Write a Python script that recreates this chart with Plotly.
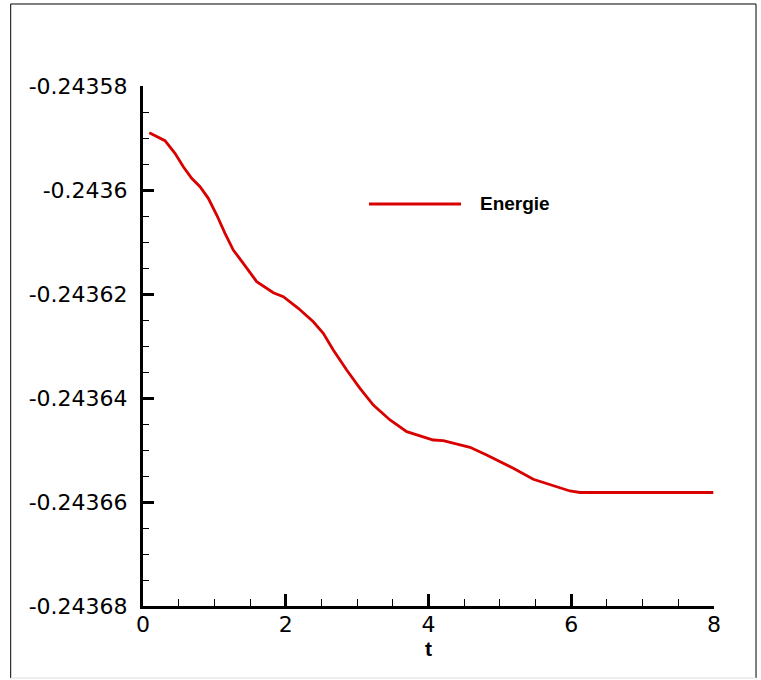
import plotly.graph_objects as go

# ---- data ----
t_values = [0.088, 0.308, 0.448, 0.565, 0.682, 0.799, 0.915, 1.033, 1.149, 1.265,
            1.405, 1.593, 1.826, 1.966, 2.176, 2.386, 2.526, 2.666, 2.854, 3.040,
            3.227, 3.461, 3.695, 3.927, 4.067, 4.207, 4.441, 4.581, 4.815, 5.188,
            5.468, 5.748, 5.982, 6.123, 7.0, 7.99]
energie = [-0.24358898, -0.24359052, -0.24359294, -0.24359552, -0.24359775,
           -0.24359937, -0.24360160, -0.24360481, -0.24360833, -0.24361154,
           -0.24361410, -0.24361763, -0.24361975, -0.24362052, -0.24362275,
           -0.24362533, -0.24362756, -0.24363077, -0.24363462, -0.24363813,
           -0.24364135, -0.24364423, -0.24364648, -0.24364744, -0.24364808,
           -0.24364821, -0.24364904, -0.24364948, -0.24365096, -0.24365352,
           -0.24365563, -0.24365692, -0.24365788, -0.24365817, -0.24365817,
           -0.24365817]

x_tickvals = [0, 2, 4, 6, 8]
x_ticktext = ["0", "2", "4", "6", "8"]
y_tickvals = [-0.24368, -0.24366, -0.24364, -0.24362, -0.2436, -0.24358]
y_ticktext = ["-0.24368", "-0.24366", "-0.24364", "-0.24362", "-0.2436", "-0.24358"]
series_name = "Energie"
x_title = "t"

LINE_COLOR = "#d90000"
FONT = "DejaVu Sans"

fig = go.Figure()
fig.add_trace(go.Scatter(x=t_values, y=energie, mode="lines", name=series_name,
                         line=dict(color=LINE_COLOR, width=2.8), showlegend=False))

fig.update_layout(
    width=761, height=680,
    margin=dict(l=143, r=47, t=86, b=74),
    paper_bgcolor="white", plot_bgcolor="white",
    showlegend=False,
)

fig.update_xaxes(
    range=[0, 8], tickvals=x_tickvals, ticktext=x_ticktext,
    showgrid=False, zeroline=False,
    showline=True, linecolor="black", linewidth=3,
    ticks="inside", ticklen=12, tickwidth=3, tickcolor="black",
    minor=dict(ticks="inside", ticklen=7, tickwidth=1, tickcolor="black", dtick=0.5, showgrid=False),
    tickfont=dict(family=FONT, size=22, color="black"),
    ticklabelstandoff=-3,
)
fig.update_yaxes(
    range=[-0.24368, -0.24358], tickvals=y_tickvals, ticktext=y_ticktext,
    showgrid=False, zeroline=False,
    showline=True, linecolor="black", linewidth=3,
    ticks="inside", ticklen=11, tickwidth=3, tickcolor="black",
    minor=dict(ticks="inside", ticklen=6, tickwidth=1, tickcolor="black", dtick=0.000005, showgrid=False),
    tickfont=dict(family=FONT, size=22, color="black"),
    ticklabelstandoff=8,
)

# axis title
fig.add_annotation(text="<b>" + x_title + "</b>", xref="x", yref="paper", x=4, y=-0.081,
                   showarrow=False, xanchor="center", yanchor="middle",
                   font=dict(family="Liberation Sans", size=21, color="black"))

# legend (manual)
fig.add_shape(type="line", xref="paper", yref="paper", x0=0.3958, x1=0.5569, y0=0.7731, y1=0.7731,
              line=dict(color=LINE_COLOR, width=2.8))
fig.add_annotation(text="<b>" + series_name + "</b>", xref="paper", yref="paper", x=0.5867, y=0.7731,
                   showarrow=False, xanchor="left", yanchor="middle",
                   font=dict(family="Liberation Sans", size=19, color="black"))

# outer frame
fx0, fx1, fy0, fy1 = -0.2317, 1.0736, -0.1385, 1.1577
fig.add_shape(type="line", xref="paper", yref="paper", x0=fx0, x1=fx0, y0=fy0, y1=fy1, line=dict(color="black", width=1))
fig.add_shape(type="line", xref="paper", yref="paper", x0=fx0, x1=fx1, y0=fy1, y1=fy1, line=dict(color="black", width=1))
fig.add_shape(type="line", xref="paper", yref="paper", x0=fx1, x1=fx1, y0=fy0, y1=fy1, line=dict(color="black", width=1))
fig.add_shape(type="line", xref="paper", yref="paper", x0=fx0, x1=fx1, y0=fy0, y1=fy0, line=dict(color="#dddddd", width=1))

fig.write_html("out.html", config={"displayModeBar": False},
               post_script="document.body.style.margin='0';")
